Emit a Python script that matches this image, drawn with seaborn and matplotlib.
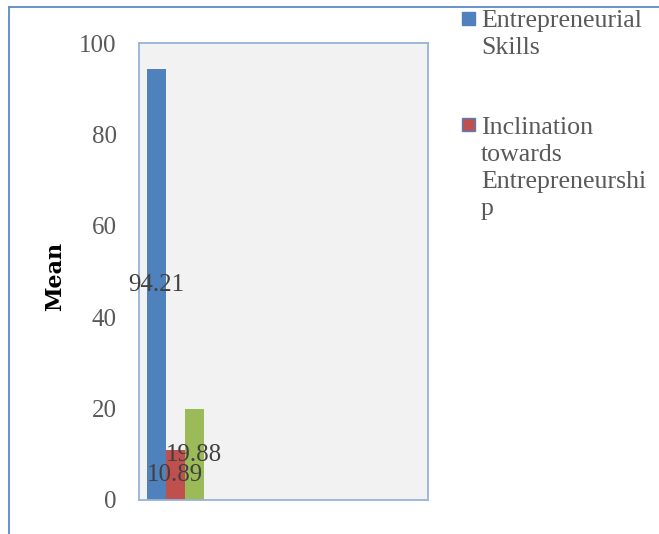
import matplotlib
matplotlib.use("Agg")
import matplotlib.pyplot as plt
from matplotlib.patches import Rectangle
from matplotlib.lines import Line2D
import seaborn as sns
import pandas as pd

# Mean scores per measure
measures = ["Entrepreneurial Skills", "Inclination towards Entrepreneurship", "Series 3"]
means = [94.21, 10.89, 19.88]
group = ["All respondents"] * 3
legend_lines = [["Entrepreneurial", "Skills"],
                ["Inclination", "towards", "Entrepreneurshi", "p"]]
y_ticks = [0, 20, 40, 60, 80, 100]

colors = ["#4F81BD", "#C0504D", "#9BBB59"]

df = pd.DataFrame({"group": group, "measure": measures, "mean": means})

sns.set_theme(style="white")
plt.rcParams["font.family"] = ["Liberation Serif", "DejaVu Serif"]
FS = 18
TEXT_GREY = "#595959"

W, H = 659, 534
fig = plt.figure(figsize=(W / 100, H / 100), dpi=100)

# outer chart frame (only left and top edges visible)
fig.add_artist(Line2D([9 / W, 9 / W], [0, 1 - 7 / H], transform=fig.transFigure,
                      color="#5B8AC6", lw=1.3))
fig.add_artist(Line2D([9 / W, 1], [1 - 7 / H, 1 - 7 / H], transform=fig.transFigure,
                      color="#5B8AC6", lw=1.3))

left, right, top, bottom = 139, 428, 43, 500
ax = fig.add_axes([left / W, 1 - bottom / H, (right - left) / W, (bottom - top) / H])
ax.set_facecolor("#F2F2F2")

sns.barplot(data=df, x="group", y="mean", hue="measure", hue_order=measures,
            palette=colors, saturation=1, width=0.8, legend=False, ax=ax,
            linewidth=0, edgecolor="none")

ax.set_xlim(-0.51, 3.54)
ax.set_ylim(0, 100)
ax.set_yticks(y_ticks)
ax.set_yticklabels([str(t) for t in y_ticks], fontsize=FS, color=TEXT_GREY)
ax.tick_params(axis="y", length=0, pad=16)
ax.set_xticks([])
ax.set_xlabel("")
ax.set_ylabel("")
for s in ax.spines.values():
    s.set_color("#95B3D7")
    s.set_linewidth(1.3)

for cont in ax.containers:
    ax.bar_label(cont, fmt="%.2f", label_type="center", fontsize=FS, color="#404040")

fig.text(55 / W, 1 - 276 / H, "Mean", rotation=90, ha="center", va="center",
         fontsize=16, fontweight="bold", color="black", family="DejaVu Serif")

# legend entries, one text line at a time
line_step = 27
entries = [(legend_lines[0], colors[0], colors[0], 12, 27),
           (legend_lines[1], colors[1], "#4F81BD", 118, 134)]
for lines, col, edge, sq_top, first_base in entries:
    fig.add_artist(Rectangle((462 / W, 1 - (sq_top + 13) / H), 13 / W, 13 / H,
                             transform=fig.transFigure, facecolor=col,
                             edgecolor=edge, lw=1.0))
    for i, ln in enumerate(lines):
        fig.text(481 / W, 1 - (first_base + i * line_step) / H, ln, ha="left",
                 va="baseline", fontsize=18.6, color=TEXT_GREY)

fig.savefig("out.png", dpi=100)
